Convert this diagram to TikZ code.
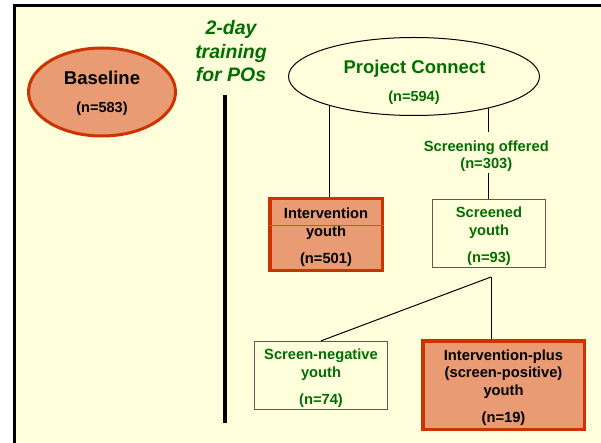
\documentclass[tikz,border=0pt]{standalone}
\usepackage{fontspec}
\setmainfont{Liberation Sans}
\usetikzlibrary{shapes.geometric}
\definecolor{cream}{RGB}{255,255,220}
\definecolor{salmon}{RGB}{233,155,115}
\definecolor{redb}{RGB}{204,51,0}
\definecolor{dgreen}{RGB}{0,110,0}
\definecolor{boxgray}{RGB}{90,90,80}
\newcommand{\pushdown}{\rule{0pt}{16pt}}
\begin{document}
\begin{tikzpicture}[x=1pt,y=-1pt,
  hot/.style={draw=redb, line width=3.5pt, fill=salmon},
  plainbox/.style={draw=boxgray, line width=1.3pt, fill=cream},
  boxtxt/.style={font=\fontsize{14.7}{17.6}\selectfont\bfseries, align=center, inner sep=0pt},
  bigtxt/.style={font=\fontsize{18.5}{22}\selectfont\bfseries, anchor=base, inner sep=0pt},
  ntxt/.style={font=\fontsize{14.5}{17}\selectfont\bfseries, anchor=base, inner sep=0pt},
  tradetxt/.style={font=\fontsize{19.5}{23}\selectfont\bfseries\itshape, anchor=base, text=dgreen, inner sep=0pt},
  conn/.style={line width=1pt, draw=black}]
\useasboundingbox (0,0) rectangle (601,443);
\fill[white] (0,0) rectangle (601,443);
\fill[cream] (14,6) rectangle (601,443);
\draw[line width=3pt] (14,443) -- (14,6) -- (601,6);

% Baseline ellipse
\node[ellipse, hot, line width=3pt, minimum width=147pt, minimum height=88pt] (base) at (102,92) {};
\node[bigtxt] (basel) at (102,85) {Baseline};
\node[ntxt] (basen) at (102,113) {(n=583)};

% training text and bar
\node[tradetxt] (tr1) at (231,35) {2-day};
\node[tradetxt] (tr2) at (231,59) {training};
\node[tradetxt] (tr3) at (231,82) {for POs};
\coordinate (bt) at (225,95);
\coordinate (bb) at (225,423);
\draw[line width=4pt] (bt) -- (bb);

% Project Connect
\node[ellipse, draw=black, line width=1pt, minimum width=251pt, minimum height=78pt] (pc) at (414,76.5) {};
\node[bigtxt, text=dgreen] (pcl) at (414.5,74) {Project Connect};
\node[ntxt, text=dgreen] (pcn) at (414,102) {(n=594)};

% boxes
\node[hot, boxtxt, minimum width=112.5pt, minimum height=71.5pt] (int) at (326,234.5)
  {\pushdown Intervention\\youth\\[9.8pt](n=501)};
\draw[redb!85, line width=0.6pt] ([yshift=8.8pt]int.west) -- ([yshift=8.8pt]int.east);

\node[plainbox, boxtxt, text=dgreen, minimum width=112.8pt, minimum height=67.7pt] (scr) at (489,233.5)
  {\pushdown Screened\\youth\\[9.8pt](n=93)};

\node[plainbox, boxtxt, text=dgreen, minimum width=133pt, minimum height=68pt] (neg) at (321,375.5)
  {\pushdown Screen-negative\\youth\\[9pt](n=74)};

\node[hot, boxtxt, minimum width=161.5pt, minimum height=88.5pt] (plus) at (503.5,385)
  {\pushdown Intervention-plus\\(screen-positive)\\youth\\[9.8pt](n=19)};

% screening offered
\node[boxtxt, text=dgreen, minimum height=41pt] (so) at (486.3,152.5)
  {\rule{0pt}{18pt}Screening offered\\(n=303)};

% connectors
\draw[conn] (pc.-161.73) -- (pc.-161.73 |- int.north);
\draw[conn] (pc.-23.6) -- (pc.-23.6 |- so.north);
\draw[conn] (pc.-23.6 |- so.south) -- (pc.-23.6 |- scr.north);
\coordinate (j) at (491,277);
\draw[conn] (j) -- (neg.north);
\draw[conn] (j) -- (j |- plus.north);
\end{tikzpicture}
\end{document}
